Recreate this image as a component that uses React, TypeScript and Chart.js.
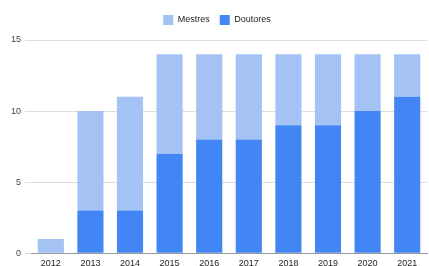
import React, { useEffect, useRef } from "react";
import { Chart, registerables } from "chart.js";

Chart.register(...registerables);

const categories = ["2012", "2013", "2014", "2015", "2016", "2017", "2018", "2019", "2020", "2021"];
const doutores = [0, 3, 3, 7, 8, 8, 9, 9, 10, 11];
const mestres = [1, 7, 8, 7, 6, 6, 5, 5, 4, 3];
const yTicks = [0, 5, 10, 15];

const legendGap = {
  id: "legendGap",
  beforeInit(chart: any) {
    const orig = chart.legend.fit;
    chart.legend.fit = function () {
      orig.bind(chart.legend)();
      this.height += 5;
    };
  },
};

export default function App() {
  const ref = useRef<HTMLCanvasElement | null>(null);
  useEffect(() => {
    if (!ref.current) return;
    const font = { family: "'Liberation Sans', Arial, sans-serif", size: 9 };
    const chart = new Chart(ref.current, {
      type: "bar",
      data: {
        labels: categories,
        datasets: [
          {
            label: "Doutores",
            data: doutores,
            backgroundColor: "#4285F4",
            barPercentage: 0.66,
            categoryPercentage: 1,
          },
          {
            label: "Mestres",
            data: mestres,
            backgroundColor: "#A4C2F4",
            barPercentage: 0.66,
            categoryPercentage: 1,
          },
        ],
      },
      options: {
        responsive: false,
        animation: false,
        layout: { padding: { left: 7, right: 2, top: 5, bottom: 0 } },
        plugins: {
          tooltip: { enabled: false },
          legend: {
            position: "top",
            reverse: true,
            labels: {
              font,
              color: "#222",
              boxWidth: 10,
              boxHeight: 10,
              padding: 10,
            },
          },
        },
        scales: {
          x: {
            stacked: true,
            grid: { display: false, drawTicks: false },
            border: { display: true, color: "#999", width: 1 },
            ticks: { font, color: "#222", padding: 5 },
          },
          y: {
            stacked: true,
            min: 0,
            max: 15,
            afterBuildTicks: (axis: any) => {
              axis.ticks = yTicks.map((v) => ({ value: v }));
            },
            grid: { color: "#dddddd", tickLength: 6, tickColor: "#dddddd" },
            border: { display: false },
            ticks: { font, color: "#444", padding: 4 },
          },
        },
      },
      plugins: [legendGap],
    });
    return () => chart.destroy();
  }, []);
  return (
    <div style={{ position: "absolute", left: 0, top: 0, width: 429, height: 274 }}>
      <canvas ref={ref} width={429} height={274} />
    </div>
  );
}
